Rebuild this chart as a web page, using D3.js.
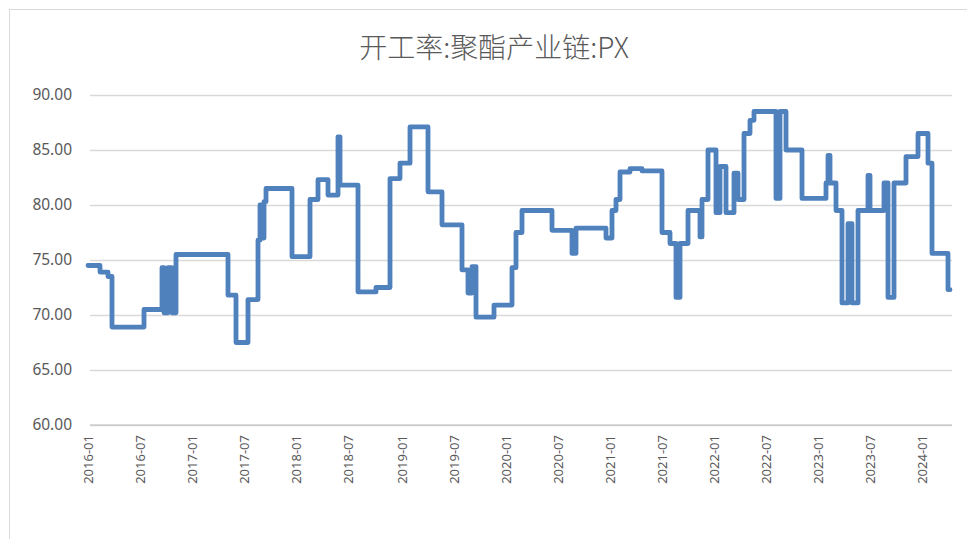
<!DOCTYPE html>
<html>
<head>
<meta charset="utf-8">
<script src="https://cdn.jsdelivr.net/npm/d3@7"></script>
<style>
  html, body { margin: 0; padding: 0; background: #fff; }
  svg { display: block; }
</style>
</head>
<body>
<svg id="chart" width="967" height="539"></svg>
<script>
const TITLE = '开工率:聚酯产业链:PX';

// week index (from 2016-01) where the rate changes, and the new rate
const weeks = [0, 6, 10, 12, 28, 37, 38, 40, 42, 44, 70, 74, 80, 85, 86, 87, 88, 89,
  102, 111, 115, 120, 125, 126, 135, 144, 151, 156, 161, 170, 177, 187, 190, 192, 194,
  203, 212, 214, 217, 232, 242, 244, 259, 262, 264, 266, 271, 277, 287, 291, 294, 296,
  300, 306, 307, 310, 314, 316, 319, 323, 325, 328, 331, 333, 344, 346, 349, 357, 369,
  370, 371, 374, 377, 380, 382, 385, 390, 391, 398, 400, 403, 409, 415, 420, 422, 430, 431];
const rates = [74.5, 73.9, 73.5, 68.9, 70.5, 74.3, 70.2, 74.3, 70.2, 75.5, 71.8, 67.5, 71.4, 76.8, 80.0, 77.0, 80.3, 81.5,
  75.3, 80.5, 82.3, 80.9, 86.2, 81.8, 72.1, 72.5, 82.4, 83.8, 87.1, 81.2, 78.2, 74.1, 72.0, 74.4, 69.8,
  70.9, 74.3, 77.5, 79.5, 77.7, 75.6, 77.9, 77.0, 79.5, 80.5, 83.0, 83.3, 83.1, 77.5, 76.5, 71.6, 76.5,
  79.5, 77.1, 80.5, 85.0, 79.3, 83.5, 79.3, 82.9, 80.5, 86.5, 87.7, 88.5, 80.6, 88.5, 85.0, 80.6, 82.0,
  84.5, 82.0, 79.5, 71.1, 78.3, 71.1, 79.5, 82.7, 79.5, 82.0, 71.6, 82.0, 84.4, 86.5, 83.8, 75.6, 72.3, 72.3];

const yTicks = [60, 65, 70, 75, 80, 85, 90];
const xTickWeeks = [0, 26, 52, 78, 104, 130, 157, 183, 209, 235, 261, 287, 313, 339, 365, 391, 417];
const xTickLabels = ['2016-01', '2016-07', '2017-01', '2017-07', '2018-01', '2018-07', '2019-01', '2019-07',
  '2020-01', '2020-07', '2021-01', '2021-07', '2022-01', '2022-07', '2023-01', '2023-07', '2024-01'];

const svg = d3.select('#chart');
const LEFT = 88, RIGHT = 952, TOP = 95, BOTTOM = 425;

// chart frame
svg.append('rect')
  .attr('x', 9.5).attr('y', 9.5)
  .attr('width', 970).attr('height', 540)
  .attr('fill', '#fff').attr('stroke', '#d9d9d9').attr('stroke-width', 1);

svg.append('text')
  .attr('x', 494).attr('y', 58)
  .attr('text-anchor', 'middle')
  .attr('font-family', '"Noto Sans CJK SC", "Noto Sans", sans-serif')
  .attr('font-weight', 300)
  .attr('font-size', 28)
  .attr('fill', '#595959')
  .text(TITLE);

const x = d3.scaleLinear().domain([0, 432]).range([LEFT, RIGHT]);
const y = d3.scaleLinear().domain([60, 90]).range([BOTTOM, TOP]);

// gridlines + y labels
const yAxis = d3.axisLeft(y).tickValues(yTicks).tickSize(-(RIGHT - 90)).tickPadding(18)
  .tickFormat(d3.format('.2f'));
const gy = svg.append('g').attr('transform', 'translate(90,0)').call(yAxis);
gy.select('.domain').remove();
gy.selectAll('line').attr('stroke', '#d9d9d9').attr('stroke-width', 1.3);
gy.selectAll('text')
  .attr('font-family', '"Noto Sans", sans-serif')
  .attr('font-size', 15.5)
  .attr('fill', '#595959');

// x axis
svg.append('line')
  .attr('x1', 90).attr('x2', RIGHT).attr('y1', BOTTOM).attr('y2', BOTTOM)
  .attr('stroke', '#bfbfbf').attr('stroke-width', 1);
svg.append('g').selectAll('text')
  .data(xTickWeeks)
  .enter()
  .append('text')
  .attr('transform', (d) => 'translate(' + (x(d) + 5) + ',' + (BOTTOM + 10) + ') rotate(-90)')
  .attr('text-anchor', 'end')
  .attr('font-family', '"Noto Sans", sans-serif')
  .attr('font-size', 13)
  .attr('fill', '#595959')
  .text((d, i) => xTickLabels[i]);

// the series
const points = weeks.map((w, i) => [w, rates[i]]);
const line = d3.line()
  .x((d) => x(d[0]))
  .y((d) => y(d[1]))
  .curve(d3.curveStepAfter);

svg.append('path')
  .datum(points)
  .attr('d', line)
  .attr('fill', 'none')
  .attr('stroke', '#4F81BD')
  .attr('stroke-width', 4.8)
  .attr('stroke-linejoin', 'round')
  .attr('stroke-linecap', 'round');
</script>
</body>
</html>
